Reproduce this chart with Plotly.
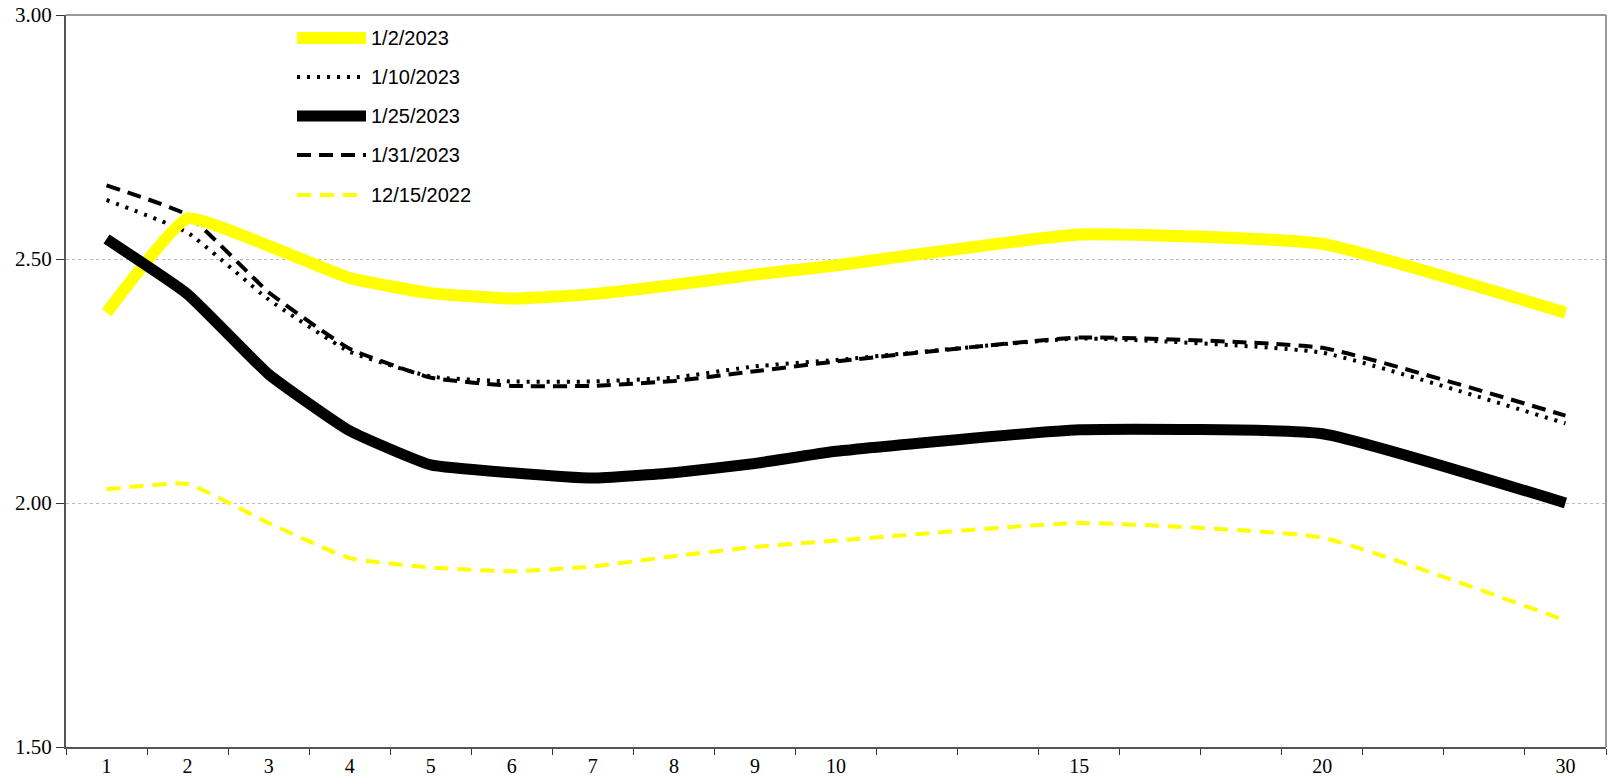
import plotly.graph_objects as go

# category positions (19 slots; labelled at 1-10, 15, 20, 30)
x_pos = [1, 2, 3, 4, 5, 6, 7, 8, 9, 10, 13, 16, 19]
tick_labels = ["1", "2", "3", "4", "5", "6", "7", "8", "9", "10", "15", "20", "30"]

s_0102 = [2.39, 2.583, 2.527, 2.461, 2.43, 2.419, 2.428, 2.447, 2.468, 2.487, 2.55, 2.531, 2.39]
s_0110 = [2.621, 2.554, 2.417, 2.31, 2.259, 2.249, 2.249, 2.257, 2.28, 2.293, 2.337, 2.308, 2.163]
s_0125 = [2.541, 2.428, 2.264, 2.148, 2.078, 2.062, 2.051, 2.062, 2.081, 2.106, 2.15, 2.142, 2.00]
s_0131 = [2.651, 2.59, 2.432, 2.316, 2.257, 2.24, 2.24, 2.25, 2.27, 2.29, 2.339, 2.318, 2.179]
s_1215 = [2.028, 2.039, 1.959, 1.887, 1.868, 1.86, 1.87, 1.891, 1.91, 1.923, 1.959, 1.929, 1.759]

series = [
    ("1/2/2023", s_0102, "#FFFF00", 12, "solid"),
    ("1/10/2023", s_0110, "#000000", 4, "3px,7px"),
    ("1/25/2023", s_0125, "#000000", 11, "solid"),
    ("1/31/2023", s_0131, "#000000", 4, "14px,8px"),
    ("12/15/2022", s_1215, "#FFFF00", 4, "14px,9px"),
]
draw_order = [4, 3, 1, 0, 2]

fig = go.Figure()
for i in draw_order:
    name, vals, col, w, dash = series[i]
    fig.add_trace(go.Scatter(
        x=x_pos, y=vals, mode="lines", name=name, showlegend=False,
        line=dict(color=col, width=w, dash=dash, shape="spline", smoothing=0.4),
    ))

L, T = 66, 15
Rg, B = 1606, 747
pw, ph = Rg - L, B - T

leg_y = [38, 77, 116, 155, 195]
for (name, vals, col, w, dash), yy in zip(series, leg_y):
    yp = 1 - (yy - T) / ph
    fig.add_shape(type="line", xref="paper", yref="paper",
                  x0=(297 - L) / pw, x1=(366 - L) / pw, y0=yp, y1=yp,
                  line=dict(color=col, width=w, dash=dash))
    fig.add_annotation(xref="paper", yref="paper", x=(369 - L) / pw, y=yp,
                       text=name, showarrow=False, xanchor="left", yanchor="middle",
                       font=dict(family="Liberation Sans, Arial", size=20, color="#000000"))

fig.update_layout(
    width=1608, height=784,
    margin=dict(l=L, r=1608 - Rg, t=T, b=784 - B),
    paper_bgcolor="white", plot_bgcolor="white",
    xaxis=dict(
        range=[0.5, 19.5], tickmode="array", tickvals=x_pos, ticktext=tick_labels,
        ticks="", showgrid=False, zeroline=False,
        showline=True, linecolor="#555555", linewidth=2, mirror=False,
        tickfont=dict(family="Liberation Serif, Times New Roman", size=20, color="#000000"),
        minor=dict(tickmode="array", tickvals=[k + 0.5 for k in range(0, 20)],
                   ticks="outside", ticklen=6, tickcolor="#333333", tickwidth=1, showgrid=False),
    ),
    yaxis=dict(
        range=[1.5, 3.0], tickmode="array", tickvals=[1.5, 2.0, 2.5, 3.0],
        ticktext=["1.50", "2.00", "2.50", "3.00"],
        ticks="outside", ticklen=8, tickcolor="#333333",
        showgrid=True, gridcolor="#BBBBBB", griddash="dot", gridwidth=1,
        zeroline=False, showline=True, linecolor="#555555", linewidth=2,
        tickfont=dict(family="Liberation Serif, Times New Roman", size=21, color="#000000"),
    ),
)
# top and right border
fig.add_shape(type="line", xref="paper", yref="paper", x0=0, x1=1, y0=1, y1=1,
              line=dict(color="#999999", width=2))
fig.add_shape(type="line", xref="paper", yref="paper", x0=1, x1=1, y0=0, y1=1,
              line=dict(color="#999999", width=2))

fig.write_html("out.html", config={"displayModeBar": False},
               post_script="document.body.style.margin='0';document.body.style.overflow='hidden';")
